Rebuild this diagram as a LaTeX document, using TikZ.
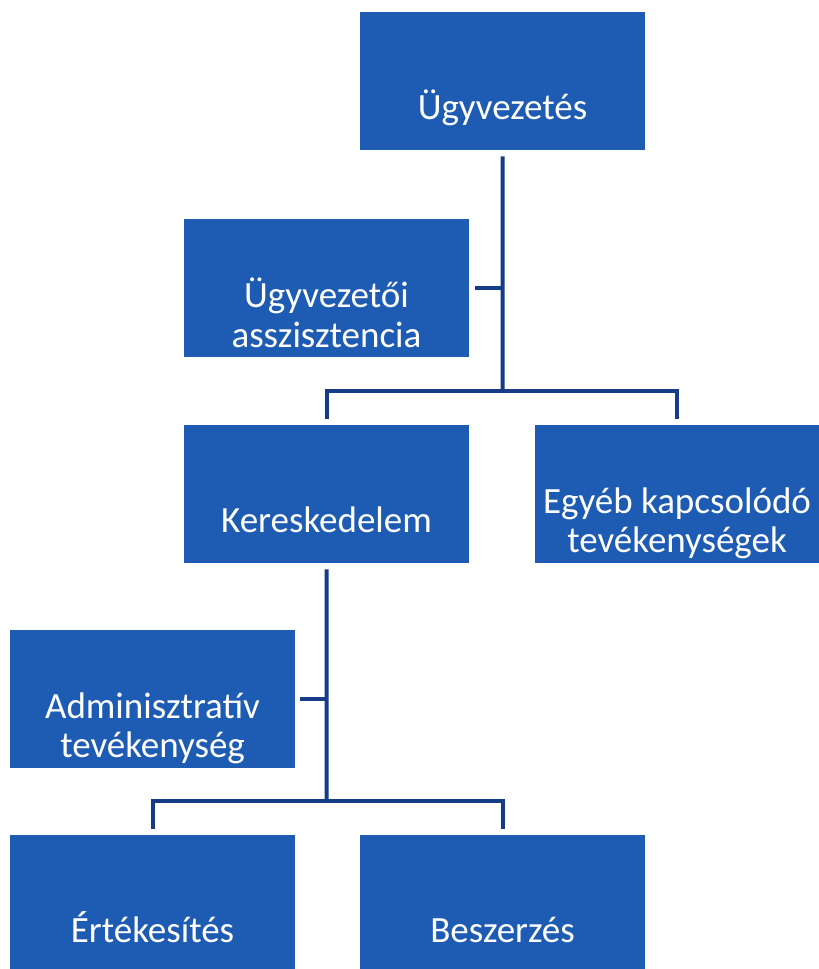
\documentclass[tikz,border=0pt]{standalone}
\usepackage{fontspec}
\setmainfont{Carlito}
\definecolor{boxblue}{RGB}{30,92,180}
\definecolor{linenavy}{RGB}{22,60,135}
\tikzset{
  orgbox/.style={fill=boxblue, draw=none, inner sep=0pt, anchor=north west,
    minimum width=285pt, minimum height=138pt},
  orgtxt/.style={text=white, anchor=base, inner sep=0pt,
    font=\fontsize{37}{40}\selectfont},
  conn/.style={draw=linenavy, line width=4pt},
}
\begin{document}
\begin{tikzpicture}[x=1pt,y=-1pt]
\useasboundingbox (0,0) rectangle (819,969);
% boxes
\node[orgbox] (ceo)   at (360,12)  {};
\node[orgbox] (asst)  at (184,219) {};
\node[orgbox] (sales) at (184,425) {};
\node[orgbox, minimum width=284pt] (other) at (535,425) {};
\node[orgbox] (admin) at (10,630)  {};
\node[orgbox, minimum height=145pt] (ert)  at (10,835)  {};
\node[orgbox, minimum height=145pt] (besz) at (360,835) {};
% texts
\node[orgtxt] (tceo)   at (502.5,119) {Ügyvezetés};
\node[orgtxt] (tasst1) at (326.5,307) {Ügyvezetői};
\node[orgtxt] (tasst2) at (326.5,347) {asszisztencia};
\node[orgtxt] (tsales) at (326.5,532) {Kereskedelem};
\node[orgtxt] (tother1) at (677,513) {Egyéb kapcsolódó};
\node[orgtxt] (tother2) at (677,552) {tevékenységek};
\node[orgtxt] (tadmin1) at (152.5,718) {Adminisztratív};
\node[orgtxt] (tadmin2) at (152.5,757) {tevékenység};
\node[orgtxt] (tert)  at (152.5,942) {Értékesítés};
\node[orgtxt] (tbesz) at (502.5,942) {Beszerzés};
% connectors
\coordinate (j1) at (502.5,391);
\coordinate (j2) at (326.5,801);
\draw[conn, shorten <=6pt] (ceo.south) -- (j1);
\draw[conn, shorten <=6pt, shorten >=6pt] (sales.north) -- (sales.north |- j1) -- (other.north |- j1) -- (other.north);
\draw[conn, shorten <=6pt] (asst.east) -- (asst.east -| j1);
\draw[conn, shorten <=6pt] (sales.south) -- (j2);
\draw[conn, shorten <=6pt, shorten >=6pt] (ert.north) -- (ert.north |- j2) -- (besz.north |- j2) -- (besz.north);
\draw[conn, shorten <=5pt] (admin.east) -- (admin.east -| j2);
\end{tikzpicture}
\end{document}
